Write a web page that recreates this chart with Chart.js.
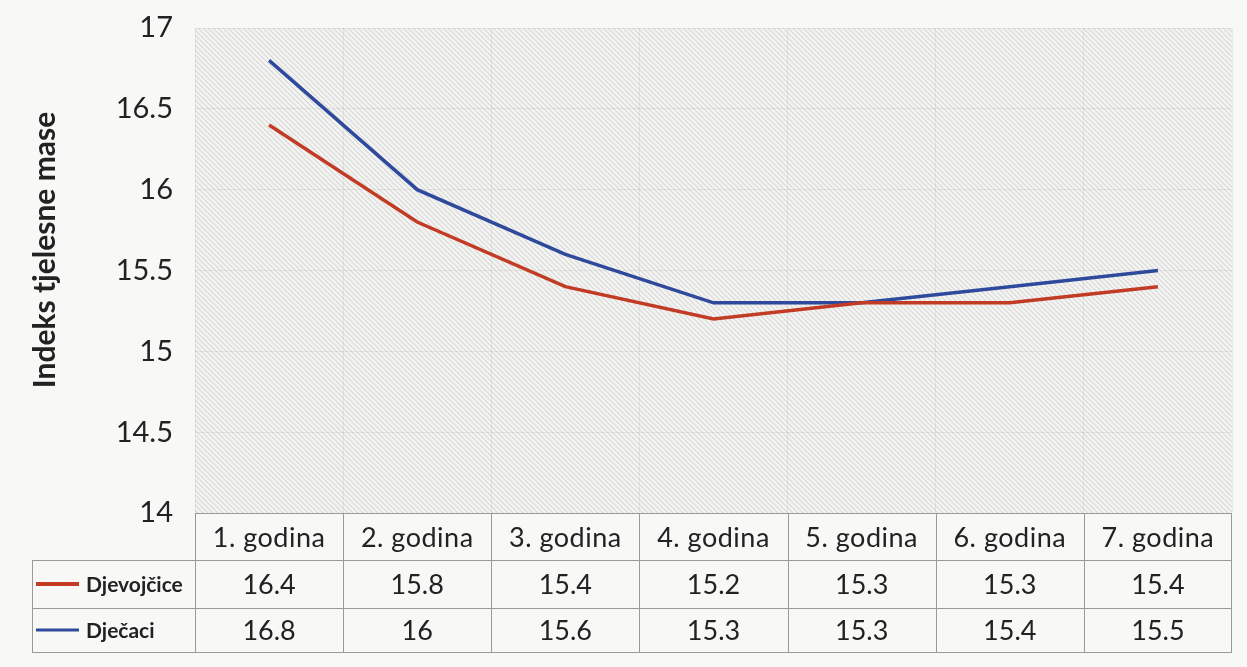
<!DOCTYPE html>
<html lang="hr">
<head>
    <meta charset="UTF-8">
    <title>Indeks tjelesne mase</title>
    <script src="https://cdn.jsdelivr.net/npm/chart.js"></script>
    <style>
        body {
            margin: 0;
            padding: 0;
            background: #f8f8f7;
        }
        #wrap {
            width: 1247px;
            height: 667px;
        }
    </style>
</head>
<body>
    <div id="wrap"><canvas id="bmiChart" width="1247" height="667"></canvas></div>

    <script>
        // Podaci
        const godine = ['1. godina', '2. godina', '3. godina', '4. godina', '5. godina', '6. godina', '7. godina'];
        const djevojcice = [16.4, 15.8, 15.4, 15.2, 15.3, 15.3, 15.4];
        const djecaci = [16.8, 16, 15.6, 15.3, 15.3, 15.4, 15.5];
        const serije = ['Djevojčice', 'Dječaci'];
        const boje = ['#c23b25', '#2f4a9c'];
        const naslovY = 'Indeks tjelesne mase';

        const FONT = 'Lato, "Open Sans", sans-serif';
        const TEKST = '#222222';

        // pozadina s kosim crtama
        function hatch() {
            const c = document.createElement('canvas');
            c.width = 5;
            c.height = 5;
            const g = c.getContext('2d');
            g.fillStyle = '#f4f4f3';
            g.fillRect(0, 0, 5, 5);
            g.strokeStyle = '#d9d9d8';
            g.lineWidth = 1.2;
            g.beginPath();
            g.moveTo(-1, -1); g.lineTo(6, 6);
            g.moveTo(-1, 4); g.lineTo(1, 6);
            g.moveTo(4, -1); g.lineTo(6, 1);
            g.stroke();
            return g.createPattern(c, 'repeat');
        }

        const pozadina = {
            id: 'pozadina',
            beforeDraw(chart) {
                const a = chart.chartArea;
                const ctx = chart.ctx;
                ctx.save();
                ctx.fillStyle = hatch();
                ctx.fillRect(a.left, a.top, a.right - a.left, a.bottom - a.top);
                ctx.restore();
            }
        };

        // tablica s podacima ispod grafa + naslov osi
        const tablica = {
            id: 'tablica',
            afterDraw(chart) {
                const ctx = chart.ctx;
                const a = chart.chartArea;
                const x = chart.scales.x;
                const half = (a.right - a.left) / godine.length / 2;
                const legLeft = 32;
                const rows = [a.bottom, 560, 608, 652];
                const vrijednosti = [djevojcice, djecaci];

                ctx.save();
                ctx.strokeStyle = '#9a9a9a';
                ctx.lineWidth = 1;

                // horizontalne crte
                ctx.beginPath();
                ctx.moveTo(a.left, rows[0] + 0.5); ctx.lineTo(a.right, rows[0] + 0.5);
                for (let r = 1; r < rows.length; r++) {
                    ctx.moveTo(legLeft, rows[r] + 0.5);
                    ctx.lineTo(a.right, rows[r] + 0.5);
                }
                // vertikalne crte
                ctx.moveTo(legLeft + 0.5, rows[1]); ctx.lineTo(legLeft + 0.5, rows[3]);
                godine.forEach((g, i) => {
                    const l = Math.round(x.getPixelForValue(i) - half) + 0.5;
                    ctx.moveTo(l, rows[0]); ctx.lineTo(l, rows[3]);
                });
                ctx.moveTo(Math.round(a.right) - 0.5, rows[0]); ctx.lineTo(Math.round(a.right) - 0.5, rows[3]);
                ctx.stroke();

                ctx.textAlign = 'center';
                ctx.textBaseline = 'middle';
                ctx.fillStyle = TEKST;

                // zaglavlje
                ctx.font = '27px ' + FONT;
                ctx.letterSpacing = '0.5px';
                godine.forEach((g, i) => {
                    ctx.fillText(g, x.getPixelForValue(i), (rows[0] + rows[1]) / 2 + 2);
                });
                ctx.letterSpacing = '0px';

                // vrijednosti
                ctx.font = '27px ' + FONT;
                vrijednosti.forEach((serija, r) => {
                    const y = (rows[r + 1] + rows[r + 2]) / 2 + 1;
                    serija.forEach((v, i) => {
                        ctx.fillText(String(v), x.getPixelForValue(i), y);
                    });
                });

                // legenda
                serije.forEach((s, r) => {
                    const y = (rows[r + 1] + rows[r + 2]) / 2;
                    ctx.strokeStyle = boje[r];
                    ctx.lineWidth = r === 0 ? 4 : 3;
                    ctx.beginPath();
                    ctx.moveTo(36, y); ctx.lineTo(79, y);
                    ctx.stroke();
                    ctx.fillStyle = TEKST;
                    ctx.textAlign = 'left';
                    ctx.font = 'bold 21px ' + FONT;
                    ctx.fillText(s, 86, y + 1);
                });

                // naslov y osi
                ctx.translate(45, 250);
                ctx.rotate(-Math.PI / 2);
                ctx.textAlign = 'center';
                ctx.font = 'bold 30px ' + FONT;
                ctx.fillText(naslovY, 0, 0);
                ctx.restore();
            }
        };

        new Chart(document.getElementById('bmiChart').getContext('2d'), {
            type: 'line',
            data: {
                labels: godine,
                datasets: [{
                    label: serije[0],
                    data: djevojcice,
                    borderColor: boje[0],
                    borderWidth: 3.5,
                    pointRadius: 0,
                    tension: 0
                }, {
                    label: serije[1],
                    data: djecaci,
                    borderColor: boje[1],
                    borderWidth: 3.5,
                    pointRadius: 0,
                    tension: 0
                }]
            },
            options: {
                responsive: false,
                animation: false,
                layout: {
                    padding: { left: 0, right: 15, top: 28, bottom: 154 }
                },
                plugins: {
                    legend: { display: false },
                    tooltip: { enabled: false }
                },
                scales: {
                    x: {
                        offset: true,
                        ticks: { display: false },
                        grid: { color: 'rgba(0,0,0,0.06)', offset: true, drawTicks: false },
                        border: { display: false }
                    },
                    y: {
                        min: 14,
                        max: 17,
                        ticks: {
                            stepSize: 0.5,
                            padding: 22,
                            color: TEKST,
                            font: { family: FONT, size: 29 },
                            callback: v => String(v)
                        },
                        grid: { color: 'rgba(0,0,0,0.06)', drawTicks: false },
                        border: { display: false },
                        afterFit(scale) {
                            scale.width = 195;
                            scale.paddingTop = 0;
                            scale.paddingBottom = 0;
                        }
                    }
                }
            },
            plugins: [pozadina, tablica]
        });
    </script>
</body>
</html>
